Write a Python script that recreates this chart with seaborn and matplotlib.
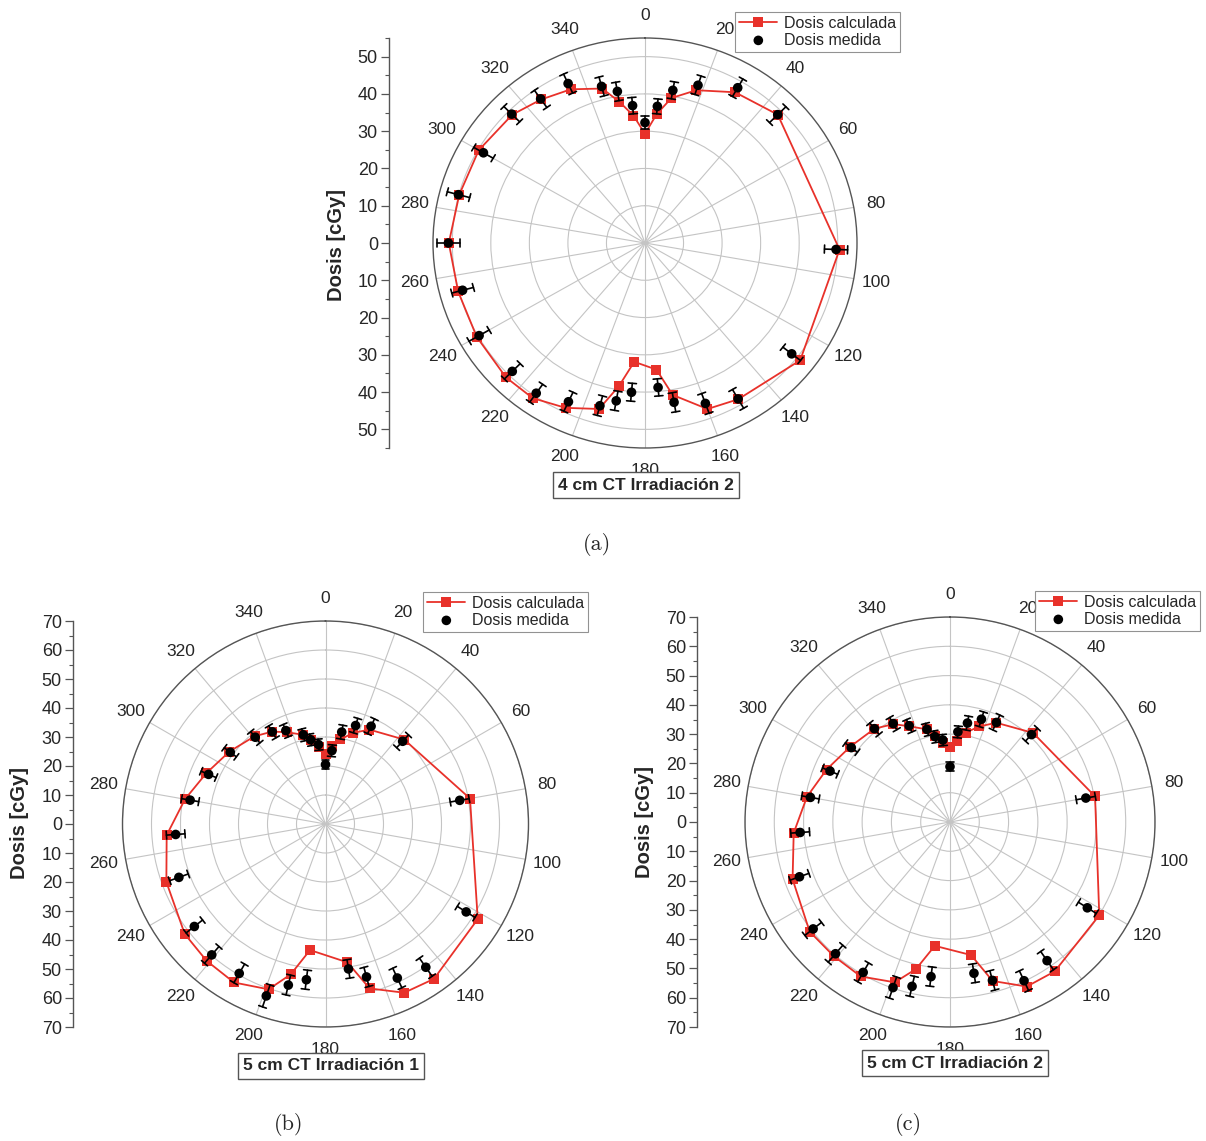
import numpy as np
import pandas as pd
import matplotlib
matplotlib.use("Agg")
import matplotlib.pyplot as plt
import seaborn as sns

# angles (deg) and doses (cGy)
ang_a = [0, 5, 10, 18, 30, 45, 92, 128, 150, 160, 170, 175, 185, 190, 195,
         205, 215, 225, 240, 255, 270, 285, 300, 315, 325, 335, 345, 350, 355]
calc_a = [29.3, 34.7, 39.5, 43.1, 46.7, 48.7, 50.5, 51.1, 48.4, 47.4, 41.4, 34.1, 32.0, 39.0, 46.1,
          48.8, 50.8, 51.0, 50.4, 50.2, 50.9, 49.9, 49.8, 48.7, 47.0, 45.5, 42.9, 38.5, 34.3]
meas_a = [32.3, 36.8, 41.6, 44.5, 48.1, 48.7, 49.6, 48.3, 48.3, 45.8, 43.4, 38.9, 40.2, 43.0, 45.2,
          47.0, 49.2, 48.7, 49.7, 49.0, 51.0, 50.1, 48.4, 48.9, 47.2, 47.2, 43.5, 41.3, 37.0]
err_a = [1.8, 2.0, 2.3, 2.6, 2.7, 3.0, 3.0, 2.9, 2.9, 2.8, 2.6, 2.3, 2.4, 2.6, 2.7,
         2.8, 2.9, 2.9, 3.0, 2.9, 3.0, 3.0, 2.9, 2.9, 2.8, 2.8, 2.6, 2.5, 2.2]

ang_bc = [0, 5, 10, 17, 25, 43, 80, 122, 145, 155, 165, 171, 187, 193, 199,
          210, 221, 232, 250, 266, 280, 293, 307, 321, 330, 337, 346, 350, 355]
calc_b = [24.2, 26.9, 29.6, 32.9, 35.9, 39.8, 50.6, 61.9, 65.2, 64.2, 58.7, 48.3, 43.8, 53.2, 60.3,
          63.1, 62.5, 61.6, 58.4, 54.9, 49.2, 44.7, 41.5, 38.9, 36.8, 34.4, 31.7, 29.4, 26.8]
meas_b = [20.5, 25.4, 32.2, 35.5, 37.2, 39.0, 47.0, 57.2, 60.3, 58.6, 54.6, 50.6, 54.1, 57.0, 62.7,
          59.5, 59.8, 57.4, 53.8, 51.8, 47.4, 43.8, 41.1, 38.5, 36.7, 35.0, 31.7, 29.5, 27.5]
err_b = [1.5, 2.0, 2.4, 2.6, 2.8, 3.0, 3.3, 3.6, 3.8, 3.7, 3.4, 3.2, 3.3, 3.5, 4.0,
         3.7, 3.8, 3.6, 3.4, 3.2, 3.0, 2.8, 2.6, 2.5, 2.4, 2.3, 2.1, 2.0, 1.9]

calc_c = [25.7, 27.8, 31.0, 34.1, 37.4, 41.6, 50.3, 60.1, 62.3, 62.0, 56.2, 46.0, 42.6, 51.5, 57.9,
          60.9, 60.6, 60.8, 57.2, 53.5, 49.6, 45.8, 42.7, 41.0, 38.6, 35.5, 32.6, 29.7, 27.0]
meas_c = [18.9, 30.9, 34.3, 36.7, 37.5, 40.8, 47.1, 55.3, 57.8, 59.8, 56.0, 52.3, 53.2, 57.6, 59.8,
          59.3, 59.6, 59.3, 54.7, 51.3, 48.4, 44.5, 42.2, 41.0, 38.8, 35.7, 32.6, 29.6, 28.1]
err_c = [1.5, 2.0, 2.4, 2.6, 2.8, 3.0, 3.3, 3.6, 3.8, 3.7, 3.4, 3.2, 3.3, 3.5, 3.8,
         3.7, 3.8, 3.6, 3.4, 3.2, 3.0, 2.8, 2.6, 2.5, 2.4, 2.3, 2.1, 2.0, 1.9]

theta_labels = [str(a) for a in range(0, 360, 20)]

W, H = 1206, 1141
RED = "#e8312a"

sns.set_theme(style="white")
plt.rcParams["font.family"] = ["Liberation Sans", "DejaVu Sans"]

fig = plt.figure(figsize=(W / 100, H / 100), dpi=100)


def fx(x):
    return x / W


def fy(y):
    return 1 - y / H


def draw_panel(center, rad, axis_x, rmax, rtop, ang, calc, meas, err,
               title, title_xy, caption, caption_xy, ylabel_xy, legend_xy):
    cx, cy = center
    rx, ry = rad
    rect = [fx(cx - rx), fy(cy + ry), 2 * rx / W, 2 * ry / H]
    ax = fig.add_axes(rect, projection="polar")
    ax.set_aspect("auto")
    ax.set_theta_zero_location("N")
    ax.set_theta_direction(-1)
    ax.set_yticks(np.arange(10, rtop + 1, 10))
    ax.set_yticklabels([])
    ax.set_ylim(0, rmax)
    ax.set_xticks(np.deg2rad(np.arange(0, 360, 20)))
    ax.set_xticklabels(theta_labels, fontsize=12.5)
    ax.set_xticks(np.deg2rad(np.arange(10, 360, 20)), minor=True)
    ax.grid(True, which="major", color="#c4c4c4", lw=0.8)
    ax.tick_params(axis="x", which="both", direction="in", length=5, width=0.8,
                   color="#555555", pad=9)
    ax.spines["polar"].set_color("#555555")
    ax.spines["polar"].set_linewidth(1.0)

    th = np.deg2rad(np.array(ang + [360]))
    line_df = pd.DataFrame({"theta": th, "dose": calc + [calc[0]]})
    sns.lineplot(data=line_df, x="theta", y="dose", sort=False, estimator=None,
                 color=RED, lw=1.3, marker="s", markersize=7, markeredgewidth=0,
                 label="Dosis calculada", ax=ax, zorder=2)

    # radial error bars with caps
    px_per_unit = ry / rmax
    for t, r, e in zip(np.deg2rad(ang), meas, err):
        ax.plot([t, t], [r - e, r + e], color="black", lw=1.2, zorder=3)
        for rr in (r - e, r + e):
            d = 4.0 / (px_per_unit * rr)
            ax.plot([t - d, t + d], [rr, rr], color="black", lw=1.2, zorder=3)

    pts = pd.DataFrame({"theta": np.deg2rad(ang), "dose": meas})
    sns.scatterplot(data=pts, x="theta", y="dose", color="black", s=48,
                    edgecolor="none", label="Dosis medida", ax=ax, zorder=4)
    ax.set_xlabel("")
    ax.set_ylabel("")
    ax.set_ylim(0, rmax)

    leg = ax.legend(loc="upper right", bbox_to_anchor=(fx(legend_xy[0]), fy(legend_xy[1])),
                    bbox_transform=fig.transFigure, frameon=True, fancybox=False,
                    edgecolor="#777777", fontsize=11.5, handlelength=2.4,
                    borderpad=0.25, labelspacing=0.1, handletextpad=0.4,
                    borderaxespad=0)
    leg.get_frame().set_linewidth(0.8)

    # linear dose axis on the left
    lax = fig.add_axes([fx(axis_x), rect[1], 0.0001, rect[3]])
    lax.patch.set_visible(False)
    for s in ("top", "right", "bottom"):
        lax.spines[s].set_visible(False)
    lax.spines["left"].set_color("#555555")
    lax.spines["left"].set_linewidth(1.0)
    yt = np.arange(-rtop, rtop + 1, 10)
    lax.set_yticks(yt)
    lax.set_yticklabels([str(abs(int(v))) for v in yt], fontsize=13)
    minor = np.arange(-rmax, rmax + 1, 5)
    lax.set_yticks(minor[minor % 10 != 0], minor=True)
    lax.set_xticks([])
    lax.set_ylim(-rmax, rmax)
    lax.tick_params(axis="y", which="major", left=True, direction="out", length=6,
                    width=0.9, color="#555555", pad=2)
    lax.tick_params(axis="y", which="minor", left=True, direction="out", length=3,
                    width=0.8, color="#555555")

    fig.text(fx(ylabel_xy[0]), fy(ylabel_xy[1]), "Dosis [cGy]", rotation=90,
             fontsize=14.5, fontweight="bold", ha="center", va="center")
    fig.text(fx(title_xy[0]), fy(title_xy[1]), title, fontsize=12.5, fontweight="bold",
             ha="center", va="center",
             bbox=dict(boxstyle="square,pad=0.3", fc="white", ec="#555555", lw=1.0))
    fig.text(fx(caption_xy[0]), fy(caption_xy[1]), caption, fontfamily="cmr10",
             fontsize=16, ha="center", va="center")
    return ax


draw_panel((645, 243), (212, 205), 389, 55, 50, ang_a, calc_a, meas_a, err_a,
           "4 cm CT Irradiación 2", (646, 485), "(a)", (597, 544), (336, 245), (900, 12))
draw_panel((325.5, 824), (203, 203), 73, 70, 70, ang_bc, calc_b, meas_b, err_b,
           "5 cm CT Irradiación 1", (331, 1066), "(b)", (289, 1124), (20, 823), (588, 592))
draw_panel((950, 822), (205, 205), 697, 70, 70, ang_bc, calc_c, meas_c, err_c,
           "5 cm CT Irradiación 2", (955, 1063), "(c)", (908, 1124), (645, 822), (1200, 591))

fig.savefig("out.png", dpi=100, facecolor="white")
